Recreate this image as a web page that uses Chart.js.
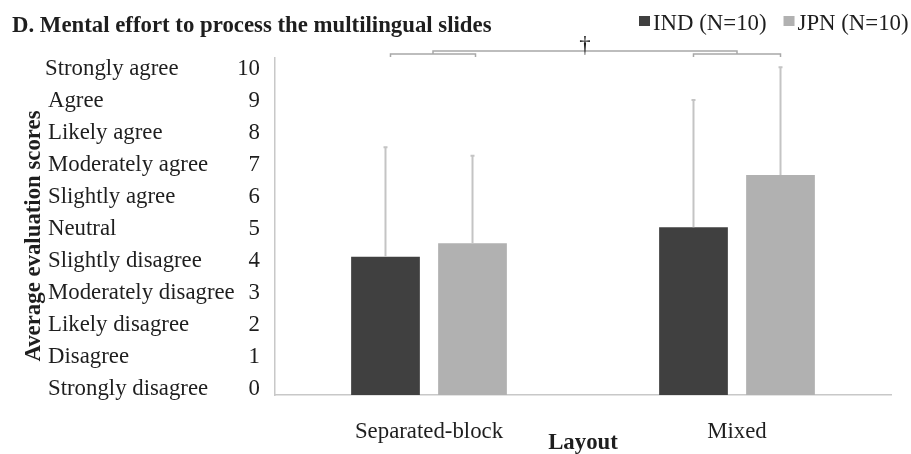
<!DOCTYPE html>
<html>
<head>
<meta charset="utf-8">
<script src="https://cdn.jsdelivr.net/npm/chart.js@4.4.1/dist/chart.umd.min.js"></script>
<style>
	body { margin: 0; background: #fff; }
	#wrap { width: 911px; height: 454px; position: relative; }
</style>
</head>
<body>
<div id="wrap"><canvas id="effortChart"></canvas></div>
<script>
const categories = ["Separated-block", "Mixed"];
const seriesNames = ["IND (N=10)", "JPN (N=10)"];
const indMeans = [4.12, 5.05];
const jpnMeans = [4.55, 6.68];
const indSD = [3.43, 3.98];
const jpnSD = [2.73, 3.37];
const yTicks = [0, 1, 2, 3, 4, 5, 6, 7, 8, 9, 10];
const yDesc = ["Strongly disagree", "Disagree", "Likely disagree", "Moderately disagree", "Slightly disagree",
	"Neutral", "Slightly agree", "Moderately agree", "Likely agree", "Agree", "Strongly agree"];
const titleText = "D. Mental effort to process the multilingual slides";
const xTitle = "Layout";
const yTitle = "Average evaluation scores";
const sigMark = "\u2020";

const serif = "'Liberation Serif', 'Times New Roman', serif";
const fs = 22.8;
const textColor = "#1e1e1e";

// extra drawing: title, legend, descriptive labels, error bars, bracket
const extras = {
	id: "extras",
	afterDatasetsDraw(chart) {
		const ctx = chart.ctx;
		const y = chart.scales.y;
		const sds = [indSD, jpnSD];
		const means = [indMeans, jpnMeans];

		// error bars (upper only)
		ctx.save();
		ctx.strokeStyle = "#c4c4c4";
		ctx.lineWidth = 2;
		chart.data.datasets.forEach((ds, di) => {
			const meta = chart.getDatasetMeta(di);
			meta.data.forEach((bar, i) => {
				const top = y.getPixelForValue(means[di][i] + sds[di][i]);
				ctx.beginPath();
				ctx.moveTo(bar.x, bar.y);
				ctx.lineTo(bar.x, top);
				ctx.moveTo(bar.x - 2, top);
				ctx.lineTo(bar.x + 2, top);
				ctx.stroke();
			});
		});
		ctx.restore();
	},
	afterDraw(chart) {
		const ctx = chart.ctx;
		const y = chart.scales.y;
		const area = chart.chartArea;

		ctx.save();
		ctx.fillStyle = textColor;

		// title
		ctx.font = "bold " + fs + "px " + serif;
		ctx.textAlign = "left";
		ctx.textBaseline = "alphabetic";
		ctx.fillText(titleText, 12, 32);

		// legend
		ctx.font = fs + "px " + serif;
		var lx = 639;
		chart.data.datasets.forEach(ds => {
			ctx.fillStyle = ds.backgroundColor;
			ctx.fillRect(lx, 16, 11, 10);
			ctx.fillStyle = textColor;
			ctx.fillText(ds.label, lx + 14, 30);
			lx += 14 + ctx.measureText(ds.label).width + 17;
		});

		// descriptive y labels
		ctx.textBaseline = "middle";
		yTicks.forEach((v, i) => {
			ctx.fillText(yDesc[i], i === 10 ? 45 : 48, y.getPixelForValue(v));
		});

		// y axis title
		ctx.save();
		ctx.font = "bold " + fs + "px " + serif;
		ctx.translate(34, 236);
		ctx.rotate(-Math.PI / 2);
		ctx.textAlign = "center";
		ctx.fillText(yTitle, 0, 0);
		ctx.restore();

		// x axis title
		ctx.font = "bold " + fs + "px " + serif;
		ctx.textAlign = "center";
		ctx.textBaseline = "alphabetic";
		ctx.fillText(xTitle, (area.left + area.right) / 2, 449);

		// significance bracket
		const b0 = chart.getDatasetMeta(0).data;
		const b1 = chart.getDatasetMeta(1).data;
		const lA = b0[0].x + 5, lB = b1[0].x + 3;
		const rA = b0[1].x, rB = b1[1].x;
		const lm = (lA + lB) / 2, rm = (rA + rB) / 2;
		const t = area.top;
		ctx.strokeStyle = "#a8a8a8";
		ctx.lineWidth = 1.5;
		ctx.beginPath();
		ctx.moveTo(lA, t - 1); ctx.lineTo(lA, t - 4); ctx.lineTo(lB, t - 4); ctx.lineTo(lB, t - 1);
		ctx.moveTo(rA, t - 1); ctx.lineTo(rA, t - 4); ctx.lineTo(rB, t - 4); ctx.lineTo(rB, t - 1);
		ctx.moveTo(lm, t - 4); ctx.lineTo(lm, t - 7); ctx.lineTo(rm, t - 7); ctx.lineTo(rm, t - 4);
		ctx.stroke();
		ctx.font = fs + "px " + serif;
		ctx.fillStyle = textColor;
		ctx.fillText(sigMark, (lm + rm) / 2, t - 6);

		ctx.restore();
	}
};

const ctx = document.getElementById("effortChart").getContext("2d");

const chart = new Chart(ctx, {
	type: "bar",
	data: {
		labels: categories,
		datasets: [{
			label: seriesNames[0],
			data: indMeans,
			backgroundColor: "#404040",
			base: -0.2,
		}, {
			label: seriesNames[1],
			data: jpnMeans,
			backgroundColor: "#b1b1b1",
			base: -0.2,
		}],
	},
	options: {
		responsive: true,
		maintainAspectRatio: false,
		animation: false,
		categoryPercentage: 0.565,
		barPercentage: 0.79,
		layout: { padding: { top: 58, right: 20, left: 0, bottom: 0 } },
		plugins: {
			legend: { display: false },
			title: { display: false },
			tooltip: { enabled: false },
		},
		scales: {
			x: {
				grid: { display: false },
				border: { display: true, color: "#c8c8c8", width: 1.5 },
				ticks: { color: textColor, font: { family: serif, size: fs }, padding: 15, maxRotation: 0 },
				afterFit: scale => { scale.height = 59; },
			},
			y: {
				min: -0.2,
				max: 10.34,
				grid: { display: false },
				border: { display: true, color: "#c8c8c8", width: 1.5 },
				ticks: { color: textColor, font: { family: serif, size: fs }, padding: 7 },
				afterBuildTicks: scale => { scale.ticks = yTicks.map(v => ({ value: v })); },
				afterFit: scale => { scale.width = 275; },
			},
		},
	},
	plugins: [extras],
});
</script>
</body>
</html>
